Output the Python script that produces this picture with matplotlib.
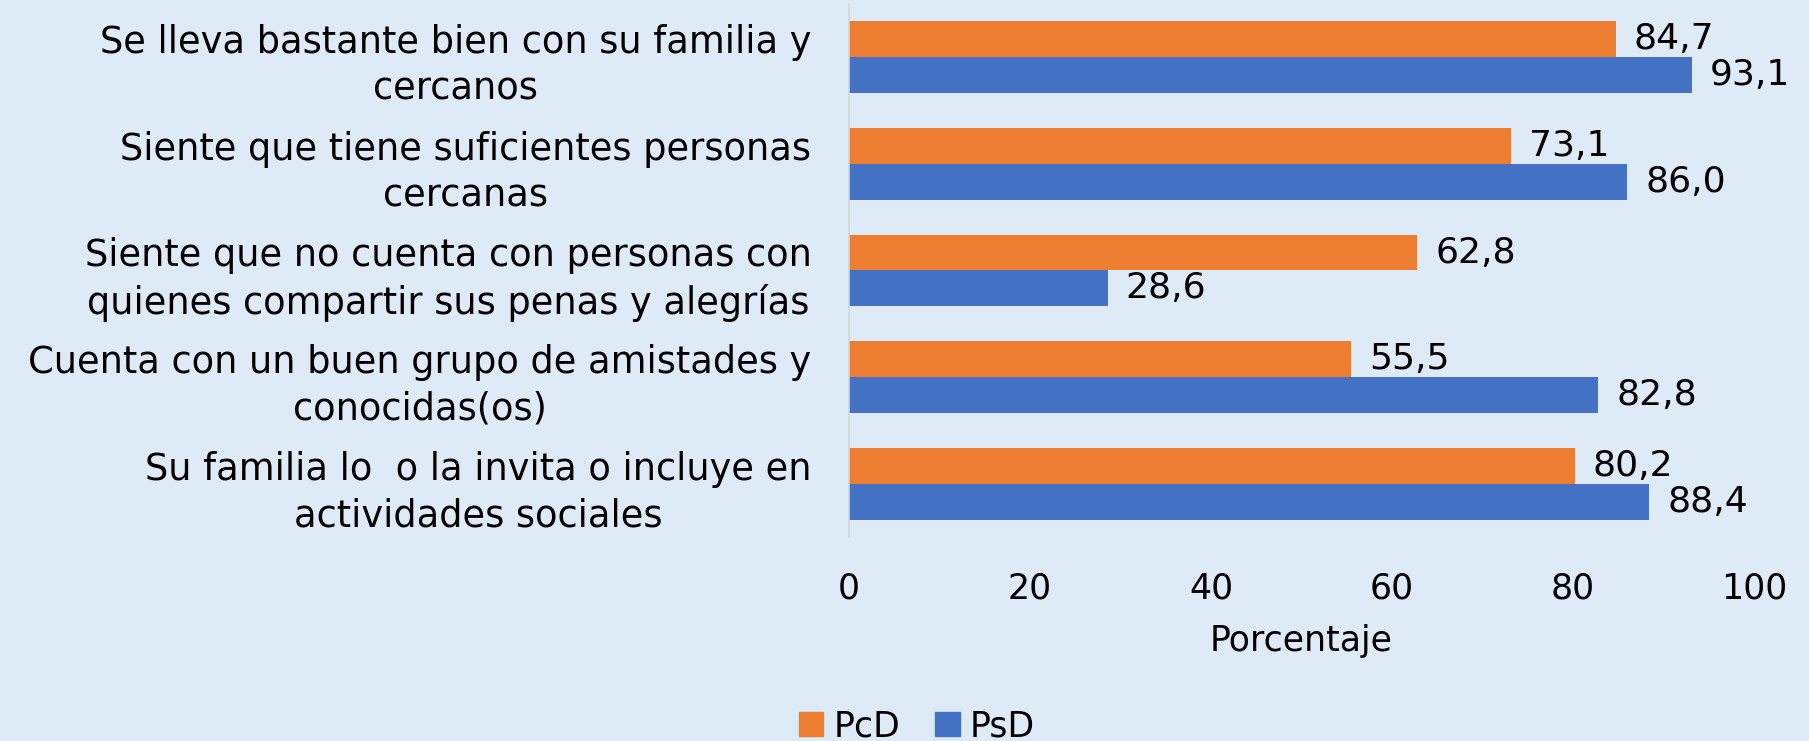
import numpy as np
import matplotlib
matplotlib.use("Agg")
import matplotlib.pyplot as plt
from matplotlib.patches import Patch

# Datos del grafico
categorias = [
    "Se lleva bastante bien con su familia y\ncercanos",
    "Siente que tiene suficientes personas\ncercanas",
    "Siente que no cuenta con personas con\nquienes compartir sus penas y alegrías",
    "Cuenta con un buen grupo de amistades y\nconocidas(os)",
    "Su familia lo  o la invita o incluye en\nactividades sociales",
]
pcd = [84.7, 73.1, 62.8, 55.5, 80.2]
psd = [93.1, 86.0, 28.6, 82.8, 88.4]
ticks_x = [0, 20, 40, 60, 80, 100]

fondo = "#DEEAF6"
naranja = "#ED7D31"
azul = "#4472C4"
fs = 25

plt.rcParams['font.family'] = ['DejaVu Sans']

fig = plt.figure(figsize=(18.09, 7.41), dpi=100, facecolor=fondo)
ax = fig.add_axes([0.4693, 0.275, 0.5003, 0.72])
ax.set_facecolor(fondo)

y = np.arange(len(categorias))
h = 0.335
b1 = ax.barh(y - h / 2, pcd, height=h, color=naranja)
b2 = ax.barh(y + h / 2, psd, height=h, color=azul)

# Etiquetas de valores con coma decimal
for barras, vals in [(b1, pcd), (b2, psd)]:
    for rect, v in zip(barras, vals):
        ax.annotate(f"{v:.1f}".replace(".", ","),
                    (rect.get_width(), rect.get_y() + rect.get_height() / 2),
                    xytext=(13, 0), textcoords="offset points",
                    ha="left", va="center", fontsize=fs + 1, color="black")

ax.set_xlim(0, 100)
ax.set_ylim(len(categorias) - 0.5, -0.5)
ax.set_xticks(ticks_x)
ax.set_yticks(y)
ax.set_yticklabels(categorias, fontsize=26.5, ha="right", multialignment="center",
                   linespacing=1.33)
ax.tick_params(axis="y", length=0, pad=27)
ax.tick_params(axis="x", length=0, labelsize=fs, pad=25)

for lado in ["top", "right", "bottom"]:
    ax.spines[lado].set_visible(False)
ax.spines["left"].set_color("#D0D7DF")
ax.spines["left"].set_linewidth(1.2)

ax.set_xlabel("Porcentaje", fontsize=fs, labelpad=13)

leyenda = [Patch(color=naranja, label="PcD"), Patch(color=azul, label="PsD")]
fig.legend(handles=leyenda, loc="lower center", bbox_to_anchor=(0.507, -0.045),
           ncol=2, frameon=False, fontsize=fs, handlelength=0.7, handleheight=0.7,
           handletextpad=0.3, columnspacing=1.0)

fig.savefig("out.png", dpi=100, facecolor=fondo)
